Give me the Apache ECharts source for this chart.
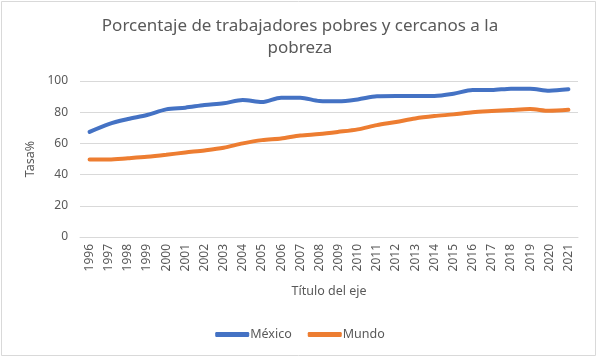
<!DOCTYPE html>
<html>
<head>
<meta charset="utf-8">
<script src="https://cdn.jsdelivr.net/npm/echarts@6/dist/echarts.min.js"></script>
<style>
html,body{margin:0;padding:0;background:#fff;}
#c{width:600px;height:363px;}
</style>
</head>
<body>
<div id="c"></div>
<script>
const years = ['1996','1997','1998','1999','2000','2001','2002','2003','2004','2005','2006','2007','2008','2009','2010','2011','2012','2013','2014','2015','2016','2017','2018','2019','2020','2021'];
const mexico = [67.4,72.4,75.6,78.2,81.8,82.9,84.6,85.7,87.8,86.5,89.3,89.3,87.2,87.0,88.2,90.2,90.4,90.4,90.4,91.8,94.2,94.2,95.1,95.1,93.8,94.7];
const mundo = [49.7,49.7,50.5,51.4,52.7,54.2,55.5,57.2,60.0,62.1,63.2,65.1,66.0,67.4,69.0,71.7,73.7,76.0,77.5,78.6,79.9,80.7,81.4,82.0,80.9,81.5];
const seriesNames = ['México','Mundo'];
const yTicks = [0,20,40,60,80,100];
const titleText = 'Porcentaje de trabajadores pobres y cercanos a la\npobreza';
const xTitle = 'Título del eje';
const yTitle = 'Tasa%';

const FONT = 'Noto Sans';
const chart = echarts.init(document.getElementById('c'), null, {renderer:'canvas'});
chart.setOption({
  animation:false,
  backgroundColor:'#fff',
  graphic:[{type:'rect', shape:{x:1.5,y:1.5,width:594,height:354}, style:{fill:'none', stroke:'#d9d9d9', lineWidth:1}, silent:true, z:-1}],
  title:{
    text:titleText, left:'center', top:10,
    textStyle:{fontFamily:FONT, fontSize:17, fontWeight:'normal', color:'#595959', lineHeight:22}
  },
  legend:{
    data:seriesNames, bottom:17, left:'center', itemWidth:34, itemHeight:5, itemGap:16,
    icon:'roundRect',
    textStyle:{fontFamily:FONT, fontSize:12.5, color:'#595959', padding:[0,0,0,-4]}
  },
  grid:{left:80, right:22, top:81, bottom:126, containLabel:false},
  xAxis:{
    type:'category', data:years, boundaryGap:true,
    name:xTitle, nameLocation:'middle', nameGap:48,
    nameTextStyle:{fontFamily:FONT, fontSize:12.5, color:'#595959'},
    axisLine:{show:true, lineStyle:{color:'#d9d9d9'}},
    axisTick:{show:false},
    axisLabel:{rotate:90, interval:0, fontFamily:FONT, fontSize:12, color:'#595959', margin:7}
  },
  yAxis:{
    type:'value', min:0, max:100, interval:20,
    name:yTitle, nameLocation:'middle', nameGap:40, nameRotate:90,
    nameTextStyle:{fontFamily:FONT, fontSize:12.5, color:'#595959'},
    axisLine:{show:false}, axisTick:{show:false},
    splitLine:{lineStyle:{color:'#d9d9d9'}},
    axisLabel:{fontFamily:FONT, fontSize:12, color:'#595959', margin:12}
  },
  series:[
    {name:seriesNames[0], type:'line', data:mexico, smooth:0.3, symbol:'none', lineStyle:{width:4, color:'#4472C4', cap:'round'}, itemStyle:{color:'#4472C4'}},
    {name:seriesNames[1], type:'line', data:mundo, smooth:0.3, symbol:'none', lineStyle:{width:4, color:'#ED7D31', cap:'round'}, itemStyle:{color:'#ED7D31'}}
  ]
});
</script>
</body>
</html>
